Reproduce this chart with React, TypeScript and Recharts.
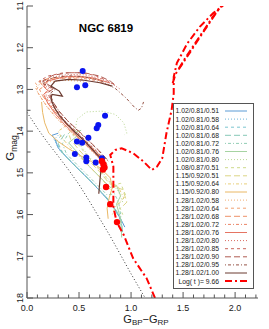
import React from 'react';
import { ComposedChart, Line, Scatter, XAxis, YAxis, Legend } from 'recharts';

const FONT = '"Liberation Sans", Arial, sans-serif';
const FRAME = '#555555';
const TXT = '#1a1a1a';

const xTicks = [0, 0.1, 0.2, 0.3, 0.4, 0.5, 0.6, 0.7, 0.8, 0.9, 1, 1.1, 1.2, 1.3, 1.4, 1.5, 1.6, 1.7, 1.8, 1.9, 2, 2.1, 2.2];
const xLabelTicks = [0, 0.5, 1, 1.5, 2];
const yTicks = [11, 11.5, 12, 12.5, 13, 13.5, 14, 14.5, 15, 15.5, 16, 16.5, 17, 17.5, 18];
const yLabelTicks = [11, 12, 13, 14, 15, 16, 17, 18];

const seriesLabels = [
  '1.02/0.81/0.51', '1.02/0.81/0.58', '1.02/0.81/0.64', '1.02/0.81/0.68', '1.02/0.81/0.72',
  '1.02/0.81/0.76', '1.02/0.81/0.80', '1.08/0.87/0.51', '1.15/0.92/0.51', '1.15/0.92/0.64',
  '1.15/0.92/0.80', '1.28/1.02/0.58', '1.28/1.02/0.64', '1.28/1.02/0.68', '1.28/1.02/0.72',
  '1.28/1.02/0.76', '1.28/1.02/0.80', '1.28/1.02/0.85', '1.28/1.02/0.90', '1.28/1.02/0.95',
  '1.28/1.02/1.00',
];
const seriesColors = [
  '#5b9bd5', '#6cb4d8', '#7cc5cf', '#86c9b7', '#92cdb5',
  '#a6d3a2', '#bad895', '#cdd98a', '#dcd585', '#e8cf7c',
  '#eab865', '#f0ae73', '#f0a070', '#ee9268', '#ea8466',
  '#e57462', '#d96a60', '#c8655c', '#b05c52', '#965447',
  '#6b3a30',
];
const SOLID = '';
const DOTTED = '1 2';
const DASHED = '3 3';
const LONGDASH = '6 3';
const DOTDASH = '1 2 3 2';
const seriesDash = [
  SOLID, DOTTED, DASHED, LONGDASH, DOTDASH,
  SOLID, DOTTED, DASHED, LONGDASH, DOTDASH,
  SOLID, DOTTED, DASHED, LONGDASH, DOTDASH,
  SOLID, DOTTED, DASHED, LONGDASH, DOTDASH,
  SOLID,
];

const iso01 = [[0.30, 14.05], [0.24, 14.1], [0.27, 14.2], [0.3, 14.4], [0.38, 14.62], [0.48, 14.88], [0.58, 15.12], [0.68, 15.38], [0.76, 15.6], [0.82, 15.78], [0.87, 15.98], [0.91, 16.15], [0.94, 16.3]];
const iso02 = [[0.3, 14.1], [0.26, 14.2], [0.31, 14.45], [0.4, 14.68], [0.5, 14.93], [0.6, 15.17], [0.7, 15.43], [0.78, 15.65], [0.84, 15.85], [0.89, 16.05], [0.93, 16.25]];
const iso03 = [[0.33, 14.1], [0.28, 14.25], [0.33, 14.5], [0.42, 14.72], [0.52, 14.97], [0.62, 15.22], [0.72, 15.47], [0.79, 15.68], [0.85, 15.9], [0.9, 16.15], [0.92, 16.35]];
const iso04 = [[0.36, 14.08], [0.3, 14.3], [0.35, 14.55], [0.45, 14.8], [0.55, 15.05], [0.65, 15.3], [0.74, 15.52], [0.81, 15.72], [0.87, 15.95], [0.91, 16.2], [0.92, 16.45]];
const iso05 = [[0.4, 14.05], [0.34, 14.3], [0.38, 14.55], [0.48, 14.8], [0.58, 15.05], [0.68, 15.3], [0.77, 15.53], [0.84, 15.5], [0.88, 15.7], [0.9, 16.0], [0.91, 16.5]];
const iso06 = [[0.52, 13.98], [0.46, 14.03], [0.48, 14.12], [0.4, 14.28], [0.5, 14.55], [0.6, 14.85], [0.7, 15.1], [0.8, 15.35], [0.86, 15.3], [0.9, 15.55], [0.86, 15.75], [0.9, 16.1], [0.91, 16.55]];
const iso07 = [[0.92, 15.7], [0.88, 15.45], [0.8, 15.2], [0.7, 14.92], [0.6, 14.62], [0.5, 14.3], [0.46, 14.05], [0.48, 13.72], [0.57, 13.54], [0.72, 13.52], [0.85, 13.6], [0.93, 13.8], [0.96, 14.05], [0.94, 14.08]];
const iso08 = [[0.5, 14.0], [0.44, 14.08], [0.47, 14.25], [0.55, 14.5], [0.65, 14.8], [0.74, 15.05], [0.82, 15.3], [0.9, 15.25], [0.95, 15.55], [0.88, 15.75], [0.92, 16.0]];
const iso09 = [[0.45, 13.95], [0.4, 14.05], [0.42, 14.2], [0.5, 14.45], [0.6, 14.72], [0.7, 14.98], [0.79, 15.25], [0.86, 15.35], [0.92, 15.4], [0.96, 15.7], [0.9, 15.85]];
const iso10 = [[0.36, 13.9], [0.3, 14.0], [0.33, 14.15], [0.42, 14.4], [0.52, 14.65], [0.62, 14.9], [0.72, 15.15], [0.8, 15.4], [0.87, 15.3], [0.93, 15.6], [0.85, 15.8], [0.82, 16.0]];
const iso11 = [[0.14, 13.3], [0.15, 13.55], [0.17, 13.8], [0.21, 14.05], [0.3, 14.25], [0.4, 14.42], [0.5, 14.57], [0.62, 14.73], [0.72, 14.92], [0.8, 15.12], [0.82, 15.35], [0.79, 15.6], [0.77, 15.85], [0.78, 16.1]];
const iso12 = [[0.76, 14.85], [0.68, 14.62], [0.58, 14.38], [0.48, 14.15], [0.38, 13.93], [0.28, 13.68], [0.2, 13.45], [0.14, 13.22], [0.1, 13.05], [0.08, 12.95], [0.12, 12.88], [0.2, 12.82], [0.35, 12.78], [0.5, 12.8], [0.6, 12.85]];
const iso13 = [[0.75, 14.8], [0.67, 14.58], [0.57, 14.34], [0.47, 14.12], [0.37, 13.9], [0.27, 13.64], [0.19, 13.4], [0.13, 13.18], [0.09, 13.02], [0.11, 12.92], [0.08, 12.85], [0.14, 12.78], [0.25, 12.74], [0.4, 12.73], [0.55, 12.77]];
const iso14 = [[0.77, 14.8], [0.69, 14.57], [0.59, 14.32], [0.49, 14.1], [0.39, 13.87], [0.29, 13.6], [0.21, 13.36], [0.15, 13.15], [0.12, 13.0], [0.16, 12.93], [0.12, 12.82], [0.2, 12.74], [0.35, 12.7], [0.5, 12.7], [0.65, 12.75], [0.75, 12.82]];
const iso15 = [[0.75, 14.72], [0.67, 14.5], [0.57, 14.27], [0.47, 14.05], [0.37, 13.82], [0.28, 13.57], [0.21, 13.32], [0.17, 13.1], [0.2, 13.0], [0.15, 12.9], [0.2, 12.78], [0.35, 12.72], [0.5, 12.72], [0.65, 12.78], [0.78, 12.88]];
const iso16 = [[0.74, 14.78], [0.66, 14.55], [0.56, 14.3], [0.46, 14.07], [0.36, 13.84], [0.27, 13.58], [0.2, 13.33], [0.16, 13.12], [0.2, 13.03], [0.16, 12.93], [0.2, 12.8], [0.35, 12.7], [0.5, 12.68], [0.65, 12.73], [0.8, 12.85]];
const iso17 = [[0.76, 14.75], [0.68, 14.52], [0.58, 14.27], [0.48, 14.04], [0.38, 13.8], [0.29, 13.55], [0.22, 13.3], [0.18, 13.1], [0.22, 13.0], [0.17, 12.9], [0.15, 12.82], [0.25, 12.7], [0.4, 12.64], [0.55, 12.65], [0.7, 12.73], [0.82, 12.87], [0.9, 13.0]];
const iso18 = [[0.75, 14.7], [0.67, 14.48], [0.57, 14.24], [0.47, 14.0], [0.37, 13.77], [0.29, 13.52], [0.23, 13.28], [0.2, 13.08], [0.24, 12.98], [0.18, 12.9], [0.12, 12.8], [0.2, 12.68], [0.35, 12.6], [0.5, 12.6], [0.65, 12.66], [0.78, 12.8], [0.85, 12.9]];
const iso19 = [[0.77, 14.68], [0.69, 14.46], [0.59, 14.22], [0.49, 13.98], [0.39, 13.75], [0.3, 13.5], [0.24, 13.26], [0.21, 13.06], [0.26, 12.97], [0.2, 12.88], [0.15, 12.8], [0.25, 12.66], [0.4, 12.6], [0.55, 12.6], [0.7, 12.68], [0.8, 12.8], [0.86, 12.92]];
const iso20 = [[0.78, 14.72], [0.7, 14.5], [0.6, 14.25], [0.5, 14.02], [0.4, 13.78], [0.31, 13.53], [0.25, 13.3], [0.22, 13.1], [0.27, 13.0], [0.21, 12.92], [0.15, 12.85], [0.25, 12.72], [0.4, 12.67], [0.55, 12.7], [0.7, 12.78], [0.85, 12.98], [0.95, 13.2], [1.03, 13.42], [1.07, 13.5], [1.1, 13.45], [1.12, 13.3]];
const iso21 = [[0.69, 15.5], [0.7, 15.2], [0.71, 14.95], [0.74, 14.78], [0.72, 14.68], [0.64, 14.47], [0.55, 14.23], [0.46, 14.02], [0.38, 13.82], [0.31, 13.62], [0.26, 13.42], [0.23, 13.22], [0.24, 13.12], [0.34, 13.16], [0.31, 13.04], [0.23, 12.92], [0.27, 12.8], [0.4, 12.76], [0.55, 12.78], [0.7, 12.84], [0.82, 12.92]];
const seriesData = [iso01, iso02, iso03, iso04, iso05, iso06, iso07, iso08, iso09, iso10, iso11, iso12, iso13, iso14, iso15, iso16, iso17, iso18, iso19, iso20, iso21];

const logLabel = 'Log( t )= 9.66';
const logMain = [[1.23, 18.0], [1.15, 17.53], [1.02, 17.05], [0.93, 16.49], [0.86, 16.17], [0.83, 15.8], [0.83, 15.49], [0.83, 15.1], [0.83, 14.85], [0.8, 14.57], [0.85, 14.45], [0.91, 14.41], [1.02, 14.53], [1.12, 14.73], [1.2, 14.93], [1.25, 14.85], [1.3, 14.65], [1.34, 14.05], [1.39, 13.49], [1.41, 13.1], [1.41, 12.7], [1.44, 12.37], [1.54, 11.9], [1.66, 11.5], [1.79, 11.17], [1.87, 11.02], [1.9, 10.95]];
const logAgb1 = [[1.4, 12.85], [1.43, 12.62], [1.49, 12.4], [1.57, 12.1], [1.66, 11.75], [1.75, 11.42], [1.83, 11.12], [1.88, 10.97]];
const logAgb2 = [[1.46, 12.5], [1.52, 12.25], [1.6, 11.95], [1.7, 11.58], [1.78, 11.28], [1.85, 11.05], [1.89, 10.95]];

const zamsLine = [[0.0, 13.55], [0.1, 13.93], [0.2, 14.28], [0.3, 14.6], [0.4, 14.93], [0.5, 15.28], [0.6, 15.68], [0.7, 16.1], [0.8, 16.52], [0.9, 16.97], [1.0, 17.42], [1.1, 17.85], [1.16, 18.1]];

const blueStars = [[0.535, 12.56], [0.48, 12.95], [0.56, 12.9], [0.75, 13.63], [0.685, 13.85], [0.67, 13.93], [0.59, 14.16], [0.48, 14.25], [0.53, 14.28], [0.46, 14.55], [0.57, 14.63], [0.57, 14.72], [0.66, 14.75], [0.72, 14.65]];
const redStars = [[0.72, 14.72], [0.735, 14.8], [0.745, 14.87], [0.73, 14.92], [0.76, 15.34], [0.8, 15.75], [0.865, 16.18]];

const toPts = (a: number[][]) => a.map(([x, y]) => ({ x, y }));

const isIn = (v: number, arr: number[]) => arr.some((a) => Math.abs(a - v) < 1e-6);

const BottomTick = (p: any) => {
  const v = p.payload.value;
  const major = isIn(v, xLabelTicks);
  return (
    <g>
      <line x1={p.x} x2={p.x} y1={p.y} y2={p.y - (major ? 6 : 3.5)} stroke={FRAME} />
      {major && (
        <text x={p.x} y={p.y + 12.5} textAnchor="middle" fontSize={9} fontFamily={FONT} fill={TXT}>
          {v.toFixed(1)}
        </text>
      )}
    </g>
  );
};
const TopTick = (p: any) => {
  const v = p.payload.value;
  const major = isIn(v, xLabelTicks);
  return <line x1={p.x} x2={p.x} y1={p.y} y2={p.y + (major ? 6 : 3.5)} stroke={FRAME} />;
};
const LeftTick = (p: any) => {
  const v = p.payload.value;
  const major = isIn(v, yLabelTicks);
  const tx = p.x - 4;
  return (
    <g>
      <line x1={p.x} x2={p.x + (major ? 6 : 3.5)} y1={p.y} y2={p.y} stroke={FRAME} />
      {major && (
        <text x={tx} y={p.y} transform={`rotate(-90, ${tx}, ${p.y})`} textAnchor="middle" fontSize={9} fontFamily={FONT} fill={TXT}>
          {String(v)}
        </text>
      )}
    </g>
  );
};
const RightTick = (p: any) => {
  const v = p.payload.value;
  const major = isIn(v, yLabelTicks);
  return <line x1={p.x} x2={p.x - (major ? 6 : 3.5)} y1={p.y} y2={p.y} stroke={FRAME} />;
};

const legendRows = [
  ...seriesLabels.map((label, i) => ({ label, color: seriesColors[i], dash: seriesDash[i], w: 1 })),
  { label: logLabel, color: '#ff0000', dash: '7 3 2 3', w: 2 },
];

const LegendBox = () => (
  <svg width={82} height={187} style={{ display: 'block' }}>
    <rect x={0.5} y={0.5} width={80} height={185} fill="#ffffff" stroke={FRAME} />
    {legendRows.map((r, i) => {
      const cy = 8 + i * 8.1;
      return (
        <g key={i}>
          <text x={46} y={cy + 2.4} textAnchor="end" fontSize={6.8} fontFamily={FONT} fill={TXT}>
            {r.label}
          </text>
          <line x1={52} x2={74} y1={cy} y2={cy} stroke={r.color} strokeWidth={r.w} strokeDasharray={r.dash || undefined} />
        </g>
      );
    })}
  </svg>
);

const dotShape = (r: number, color: string) => (p: any) => <circle cx={p.cx} cy={p.cy} r={r} fill={color} />;

export default function App() {
  return (
    <div style={{ position: 'absolute', left: 0, top: 0, width: 269, height: 329, background: '#fff' }}>
      <ComposedChart width={269} height={329} margin={{ top: 6, right: 11, bottom: 0, left: 0 }}>
        <XAxis
          xAxisId={0}
          type="number"
          dataKey="x"
          domain={[0, 2.22]}
          allowDataOverflow
          ticks={xTicks}
          interval={0}
          tickSize={0}
          tickMargin={0}
          tickLine={false}
          tick={BottomTick}
          axisLine={{ stroke: FRAME }}
          height={31}
        />
        <XAxis
          xAxisId="top"
          orientation="top"
          type="number"
          dataKey="x"
          domain={[0, 2.22]}
          allowDataOverflow
          ticks={xTicks}
          interval={0}
          tickSize={0}
          tickMargin={0}
          tickLine={false}
          tick={TopTick}
          axisLine={{ stroke: FRAME }}
          height={0}
        />
        <YAxis
          yAxisId={0}
          type="number"
          dataKey="y"
          domain={[11, 18]}
          reversed
          allowDataOverflow
          ticks={yTicks}
          interval={0}
          tickSize={0}
          tickMargin={0}
          tickLine={false}
          tick={LeftTick}
          axisLine={{ stroke: FRAME }}
          width={27}
        />
        <YAxis
          yAxisId="right"
          orientation="right"
          type="number"
          dataKey="y"
          domain={[11, 18]}
          reversed
          allowDataOverflow
          ticks={yTicks}
          interval={0}
          tickSize={0}
          tickMargin={0}
          tickLine={false}
          tick={RightTick}
          axisLine={{ stroke: FRAME }}
          width={0}
        />
        <Line
          data={toPts(zamsLine)}
          dataKey="y"
          type="linear"
          stroke="#333333"
          strokeWidth={1}
          strokeDasharray="1 2.2"
          dot={false}
          isAnimationActive={false}
          legendType="none"
        />
        {seriesData.map((d, i) => (
          <Line
            key={seriesLabels[i]}
            name={seriesLabels[i]}
            data={toPts(d)}
            dataKey="y"
            type="linear"
            stroke={seriesColors[i]}
            strokeWidth={i === 20 ? 1.2 : 1}
            strokeDasharray={seriesDash[i] || undefined}
            dot={false}
            isAnimationActive={false}
          />
        ))}
        {[logMain, logAgb1, logAgb2].map((d, i) => (
          <Line
            key={'log' + i}
            name={logLabel}
            data={toPts(d)}
            dataKey="y"
            type="linear"
            stroke="#ff0000"
            strokeWidth={2}
            strokeDasharray="7 3 2 3"
            dot={false}
            isAnimationActive={false}
          />
        ))}
        <Scatter data={toPts(blueStars)} dataKey="y" fill="#0000ff" shape={dotShape(3, '#0a14f0')} isAnimationActive={false} />
        <Scatter data={toPts(redStars)} dataKey="y" fill="#ff0000" shape={dotShape(3.2, '#ff0000')} isAnimationActive={false} />
        <text x={106} y={31.5} textAnchor="middle" fontSize={11.5} fontWeight="bold" fontFamily={FONT} fill="#000">
          NGC 6819
        </text>
        <text x={146} y={322.5} textAnchor="middle" fontSize={11} fontFamily={FONT} fill={TXT}>
          <tspan>G</tspan>
          <tspan dy={2.5} fontSize={8}>BP</tspan>
          <tspan dy={-2.5}>{'\u2212G'}</tspan>
          <tspan dy={2.5} fontSize={8}>RP</tspan>
        </text>
        <text x={14} y={148} transform="rotate(-90, 14, 148)" textAnchor="middle" fontSize={11.5} fontFamily={FONT} fill={TXT}>
          <tspan>G</tspan>
          <tspan dy={3} fontSize={8.5}>mag</tspan>
        </text>
        <Legend
          layout="vertical"
          align="center"
          verticalAlign="middle"
          wrapperStyle={{ position: 'absolute', left: 173, top: 103, width: 82, height: 187, margin: 0, padding: 0 }}
          content={() => <LegendBox />}
        />
      </ComposedChart>
    </div>
  );
}
